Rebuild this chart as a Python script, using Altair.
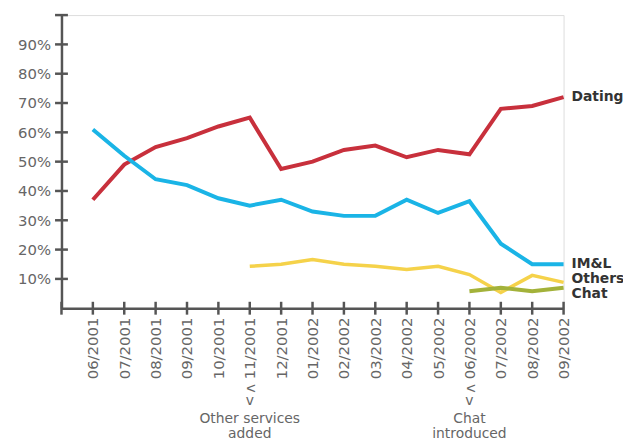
import json
import altair as alt
import pandas as pd

# ---- data ----
months = ["06/2001", "07/2001", "08/2001", "09/2001", "10/2001", "11/2001",
          "12/2001", "01/2002", "02/2002", "03/2002", "04/2002", "05/2002",
          "06/2002", "07/2002", "08/2002", "09/2002"]
tick_labels = ["06/2001", "07/2001", "08/2001", "09/2001", "10/2001", "ʌ 11/2001",
               "12/2001", "01/2002", "02/2002", "03/2002", "04/2002", "05/2002",
               "ʌ 06/2002", "07/2002", "08/2002", "09/2002"]
dating = [37, 49, 55, 58, 62, 65, 47.5, 50, 54, 55.5, 51.5, 54, 52.5, 68, 69, 72]
iml = [61, 52, 44, 42, 37.5, 35, 37, 33, 31.5, 31.5, 37, 32.5, 36.5, 22, 15, 15]
others = [None, None, None, None, None, 14.3, 15, 16.6, 15, 14.3, 13.2, 14.3, 11.5, 5.4, 11.2, 8.8]
chat = [None] * 12 + [5.8, 7, 5.8, 7]

series_names = ["Dating", "IM&L", "Others", "Chat"]
series_values = [dating, iml, others, chat]
series_colors = ["#c8303c", "#1ab4e6", "#f5d24a", "#a3b23a"]
label_y = [72, 15, 10, 4.8]

y_ticks = [10, 20, 30, 40, 50, 60, 70, 80, 90, 100]
x_ticks = list(range(-1, 16))

annotations = [
    {"idx": 5, "line1": "Other services", "line2": "added"},
    {"idx": 12, "line1": "Chat", "line2": "introduced"},
]

FONT = "DejaVu Sans"
AXIS_COLOR = "#555555"
LABEL_COLOR = "#666666"

xscale = alt.Scale(domain=[-1, 15], nice=False, zero=False)
yscale = alt.Scale(domain=[0, 100], nice=False)

label_expr_x = json.dumps(tick_labels, ensure_ascii=False) + "[datum.value]"

x_axis = alt.Axis(values=list(range(16)), labelExpr=label_expr_x, labelAngle=-90,
                  ticks=False, grid=False, title=None, domainColor=AXIS_COLOR,
                  domainWidth=2.5, labelFont=FONT, labelFontSize=15,
                  labelColor=LABEL_COLOR, labelPadding=9, labelOverlap=False,
                  labelBound=False)
y_axis = alt.Axis(values=y_ticks[:-1], labelExpr="datum.value + '%'", ticks=False,
                  grid=False, title=None, domainColor=AXIS_COLOR, domainWidth=2.5,
                  labelFont=FONT, labelFontSize=15, labelColor=LABEL_COLOR,
                  labelPadding=11, labelOverlap=False)

layers = []

# crossing tick marks
xt = pd.DataFrame({"idx": x_ticks, "value": [0] * len(x_ticks)})
layers.append(alt.Chart(xt).mark_tick(orient="vertical", size=13, thickness=2.5,
                                      color=AXIS_COLOR, opacity=1))
yt = pd.DataFrame({"idx": [-1] * len(y_ticks), "value": y_ticks})
layers.append(alt.Chart(yt).mark_tick(orient="horizontal", size=13, thickness=2.5,
                                      color=AXIS_COLOR, opacity=1))

# series lines
widths = [4, 4, 3.5, 4]
for name, vals, col, w in zip(series_names, series_values, series_colors, widths):
    df = pd.DataFrame({"idx": list(range(len(months))), "month": months, "value": vals})
    df = df.dropna()
    layers.append(alt.Chart(df).mark_line(color=col, strokeWidth=w))

# end labels
lab = pd.DataFrame({"name": series_names, "idx": [15] * 4, "value": label_y})
layers.append(alt.Chart(lab).mark_text(align="left", baseline="middle", dx=8,
                                       font=FONT, fontSize=14, fontWeight="bold",
                                       color="#333333").encode(text="name:N"))

# annotations below axis
ann = pd.DataFrame(annotations)
ann["value"] = 0
txt = dict(align="center", baseline="middle", font=FONT, fontSize=14, color=LABEL_COLOR)
layers.append(alt.Chart(ann).mark_text(text="v", **txt).encode(y=alt.value(390)))
layers.append(alt.Chart(ann).mark_text(**txt).encode(y=alt.value(408), text="line1:N"))
layers.append(alt.Chart(ann).mark_text(**txt).encode(y=alt.value(423), text="line2:N"))

chart = alt.layer(*layers).encode(
    x=alt.X("idx:Q", scale=xscale, axis=x_axis),
    y=alt.Y("value:Q", scale=yscale, axis=y_axis),
).properties(
    width=507, height=296,
    autosize=alt.AutoSizeParams(type="none"),
    padding={"left": 54, "top": 5, "right": 60, "bottom": 140},
).configure_view(stroke=None).configure_axis(labelOverlap=False).configure(background="white")

chart.save("out.html", embed_options={"renderer": "svg", "actions": False})
